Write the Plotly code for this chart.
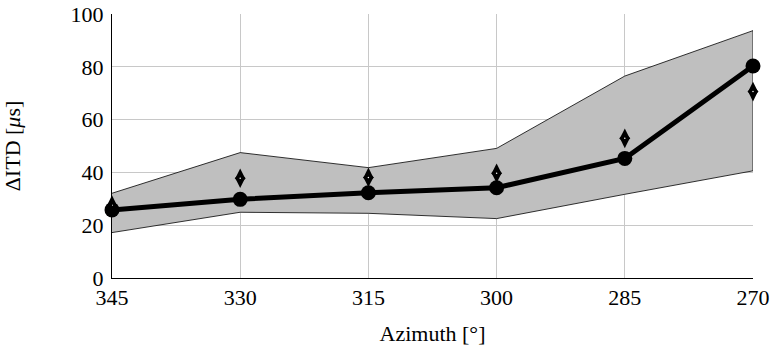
import plotly.graph_objects as go

azimuth = [345, 330, 315, 300, 285, 270]
mean_itd = [25.8, 29.8, 32.3, 34.2, 45.3, 80.3]
upper_itd = [32.1, 47.5, 41.8, 49.1, 76.5, 93.7]
lower_itd = [17.2, 24.9, 24.5, 22.5, 31.7, 40.6]
model_itd = [27.6, 37.8, 38.1, 39.7, 52.9, 70.6]
y_ticks = [0, 20, 40, 60, 80, 100]

FONT = "Liberation Serif"
FS = 22

fig = go.Figure()

fig.add_trace(go.Scatter(
    x=azimuth + azimuth[::-1],
    y=upper_itd + lower_itd[::-1],
    fill="toself", fillcolor="#bfbfbf",
    line=dict(color="black", width=0.8),
    mode="lines", hoverinfo="skip", showlegend=False,
))

fig.add_trace(go.Scatter(
    x=azimuth, y=mean_itd, mode="lines+markers",
    line=dict(color="black", width=5),
    marker=dict(symbol="circle", size=15, color="black"),
    showlegend=False, cliponaxis=False,
))

fig.add_trace(go.Scatter(
    x=azimuth, y=model_itd, mode="markers",
    marker=dict(symbol="diamond-tall", size=14, color="black"),
    showlegend=False, cliponaxis=False,
))
fig.add_trace(go.Scatter(
    x=azimuth, y=model_itd, mode="markers",
    marker=dict(symbol="diamond", size=8.5, color="black"),
    showlegend=False, cliponaxis=False, hoverinfo="skip",
))
fig.add_trace(go.Scatter(
    x=azimuth, y=model_itd, mode="markers",
    marker=dict(symbol="circle", size=1.5, color="white"),
    showlegend=False, cliponaxis=False, hoverinfo="skip",
))

fig.update_layout(
    width=774, height=355,
    margin=dict(l=112, r=21, t=14, b=77),
    paper_bgcolor="white", plot_bgcolor="white",
    font=dict(family=FONT, size=FS, color="black"),
)

fig.update_xaxes(
    range=[345, 270], tickmode="array", tickvals=azimuth,
    ticktext=[str(a) for a in azimuth],
    showgrid=True, gridcolor="#c8c8c8", gridwidth=1,
    showline=True, linecolor="black", linewidth=1.2,
    ticks="", automargin=False, ticklabelstandoff=-1,
    ticklabeloverflow="allow",
    zeroline=False,
    title=dict(text="Azimuth [°]", standoff=17, font=dict(size=FS)),
    tickfont=dict(size=FS),
)
fig.update_yaxes(
    range=[0, 100], tickmode="array", tickvals=y_ticks,
    showgrid=True, gridcolor="#c8c8c8", gridwidth=1,
    showline=True, linecolor="black", linewidth=1.2,
    ticks="", automargin=False, ticklabelstandoff=3,
    ticklabeloverflow="allow",
    zeroline=False,
    title=dict(text="ΔITD [<i>μ</i>s]", standoff=47, font=dict(size=FS)),
    tickfont=dict(size=FS),
)

fig.write_html(
    "out.html",
    config={"displayModeBar": False},
    post_script="document.body.style.margin='0px';",
)
